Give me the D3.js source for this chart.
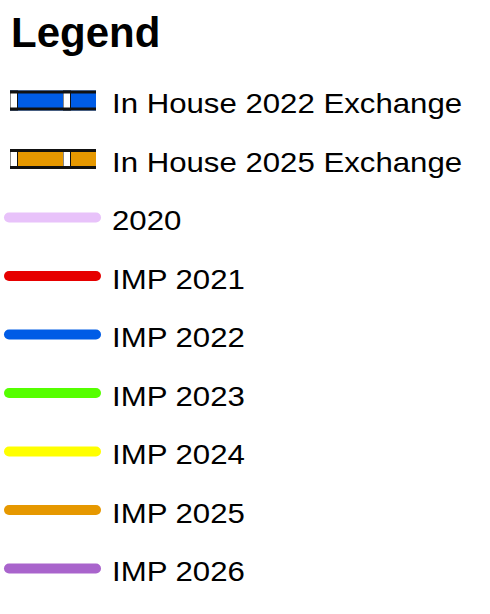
<!DOCTYPE html>
<html>
<head>
<meta charset="utf-8">
<script src="https://cdn.jsdelivr.net/npm/d3@7"></script>
<style>
  body { margin: 0; background: #fff; }
  svg text { font-family: Arial, "Liberation Sans", sans-serif; fill: #000; }
</style>
</head>
<body>
<div id="legend"></div>
<script>
// legend entries
var labels = ['In House 2022 Exchange', 'In House 2025 Exchange', '2020', 'IMP 2021', 'IMP 2022',
              'IMP 2023', 'IMP 2024', 'IMP 2025', 'IMP 2026'];
var kinds = ['exchange', 'exchange', 'line', 'line', 'line', 'line', 'line', 'line', 'line'];
var colors = ['#005ce6', '#e69800', '#e8c2fa', '#e60000', '#005ce6', '#55ff00', '#ffff00', '#e69800', '#a964cc'];

var width = 490, height = 614;

var svg = d3.select('#legend').append('svg')
    .attr('width', width)
    .attr('height', height);

svg.append('text')
    .attr('x', 11)
    .attr('y', 47)
    .style('font-size', '42px')
    .style('font-weight', 'bold')
    .text('Legend');

var y = d3.scalePoint()
    .domain(d3.range(labels.length))
    .range([100.5, 568.5]);

var rows = svg.selectAll('.row')
    .data(labels)
    .enter()
    .append('g')
    .attr('class', 'row')
    .attr('transform', (d, i) => 'translate(0,' + y(i) + ')');

// plain lines
rows.filter((d, i) => kinds[i] === 'line')
    .append('line')
    .attr('x1', 9)
    .attr('x2', 96)
    .attr('y1', 0)
    .attr('y2', 0)
    .attr('stroke', d => colors[labels.indexOf(d)])
    .attr('stroke-width', 10)
    .attr('stroke-linecap', 'round');

// exchange symbol: black-edged bar with white blocks
var ex = rows.filter((d, i) => kinds[i] === 'exchange');
ex.append('rect')
    .attr('x', 10)
    .attr('y', -10)
    .attr('width', 86)
    .attr('height', 20)
    .attr('fill', d => colors[labels.indexOf(d)]);
ex.append('rect')
    .attr('x', 10)
    .attr('y', -10)
    .attr('width', 86)
    .attr('height', 3)
    .attr('fill', '#111');
ex.append('rect')
    .attr('x', 10)
    .attr('y', 7)
    .attr('width', 86)
    .attr('height', 3)
    .attr('fill', '#111');
[10, 63].forEach(function(bx) {
    ex.append('rect')
        .attr('x', bx)
        .attr('y', -10)
        .attr('width', 8)
        .attr('height', 20)
        .attr('fill', '#111');
    ex.append('rect')
        .attr('x', bx + 0.5)
        .attr('y', -7)
        .attr('width', 6.5)
        .attr('height', 14)
        .attr('fill', '#fff');
});

// labels are a bit wider than plain Arial in the original
rows.append('text')
    .attr('transform', 'translate(112,12.5) scale(1.155,1)')
    .style('font-size', '27px')
    .text(d => d);
</script>
</body>
</html>
